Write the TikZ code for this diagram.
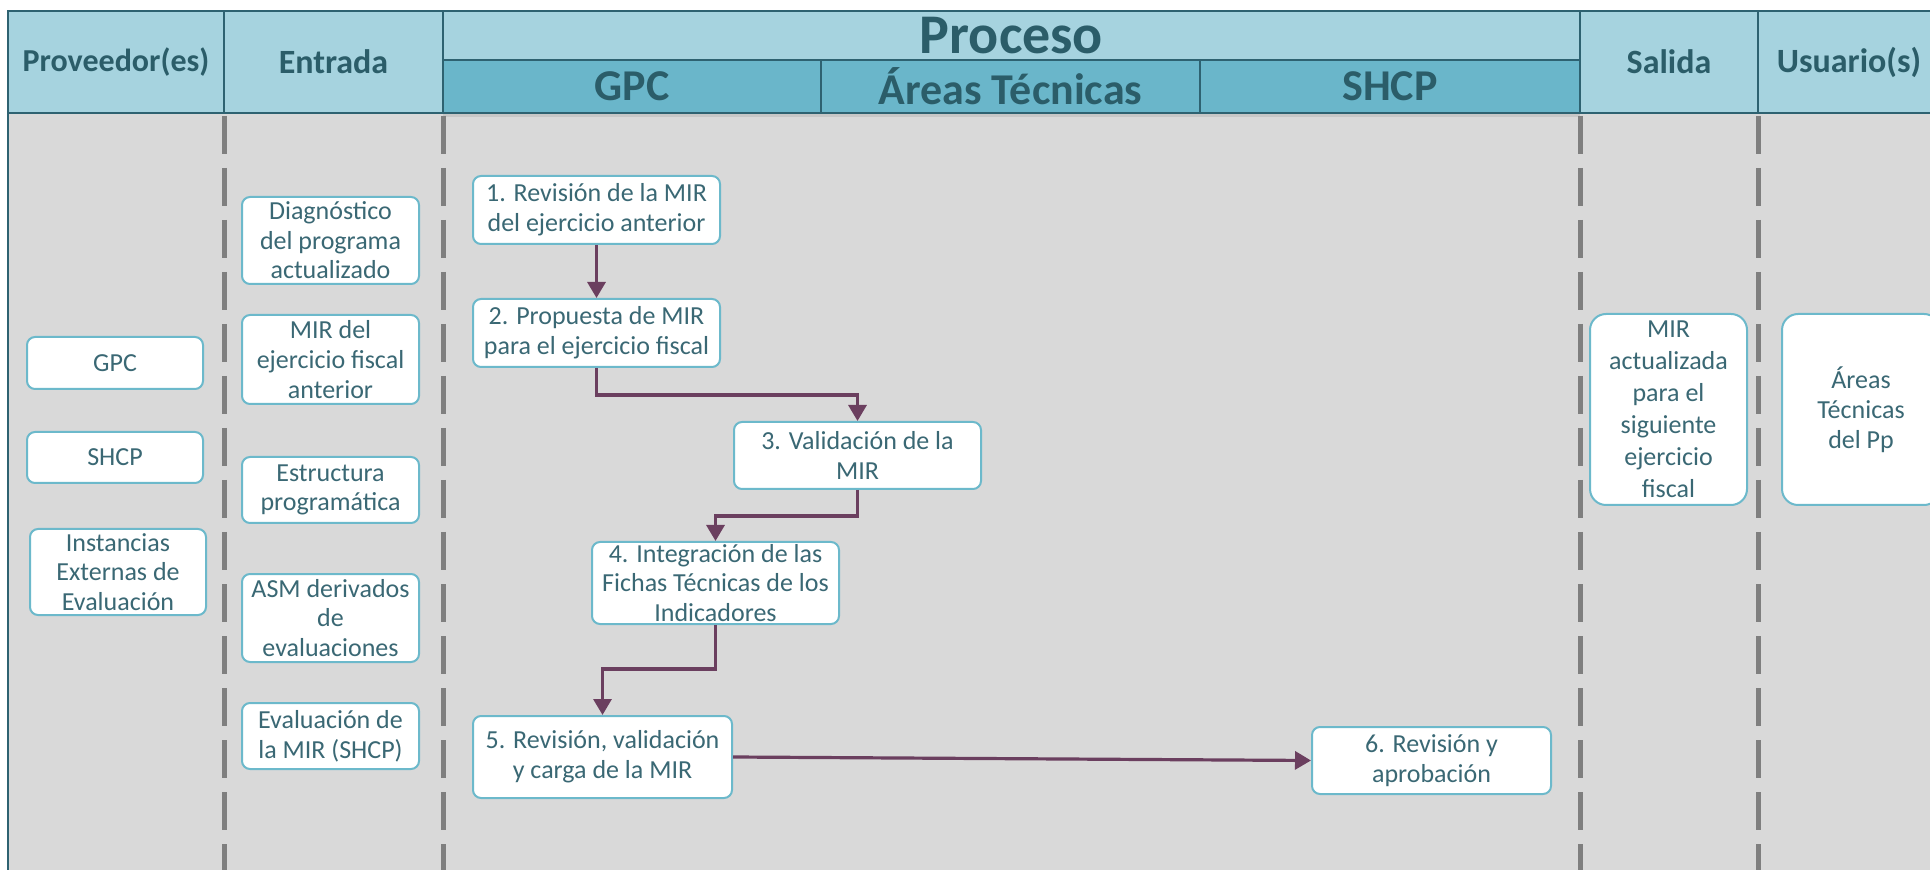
\documentclass[tikz,border=0pt]{standalone}
\usepackage{fontspec}
\setmainfont{Carlito}
\usetikzlibrary{arrows.meta}
\definecolor{hdrlight}{HTML}{A6D3DF}
\definecolor{hdrdark}{HTML}{6AB6CA}
\definecolor{hdrline}{HTML}{2E6271}
\definecolor{hdrtext}{HTML}{2B5D69}
\definecolor{bodygray}{HTML}{D9D9D9}
\definecolor{dashgray}{HTML}{7F7F7F}
\definecolor{boxline}{HTML}{6CB9CB}
\definecolor{boxtext}{HTML}{3A6874}
\definecolor{arrowcol}{HTML}{6B3F5F}
\begin{document}
\begin{tikzpicture}[x=0.5pt,y=-0.5pt,
  box/.style={draw=boxline, line width=1pt, fill=white, rounded corners=4pt, align=center,
    text=boxtext, font=\fontsize{13}{14.8}\selectfont, inner sep=1pt},
  hdrcell/.style={draw=hdrline, line width=1.2pt, fill=hdrlight, text=hdrtext,
    font=\bfseries\fontsize{17}{19}\selectfont, inner sep=0pt},
  subcell/.style={hdrcell, fill=hdrdark, font=\bfseries\fontsize{22}{24}\selectfont},
  lanesep/.style={draw=dashgray, line width=2.5pt, dash pattern=on 19pt off 7pt},
  flow/.style={draw=arrowcol, line width=1.6pt, -{Triangle[length=8pt,width=9pt]}}
]
\clip (0,0) rectangle (1930,870);
\fill[white] (0,0) rectangle (1930,870);
% body
\fill[bodygray] (8,113) rectangle (1940,870);
\fill[black!22] (443,113) rectangle (1580,117);
\draw[hdrline, line width=1pt] (8,113) -- (8,870);
% header cells
\node[hdrcell, minimum width=108pt, minimum height=51pt, font=\bfseries\fontsize{16}{18}\selectfont] (hProv) at (116,62) {Proveedor(es)};
\node[hdrcell, minimum width=109.5pt, minimum height=51pt] (hEnt) at (333.5,62) {Entrada};
\node[hdrcell, minimum width=568.5pt, minimum height=24.5pt, font=\bfseries\fontsize{28}{30}\selectfont] (hProc) at (1011.5,35.5) {Proceso};
\node[subcell, minimum width=189pt, minimum height=26.5pt] (hGPC) at (632,86.5) {GPC};
\node[subcell, minimum width=189.5pt, minimum height=26.5pt] (hAT) at (1010.5,86.5) {Áreas Técnicas};
\node[subcell, minimum width=190pt, minimum height=26.5pt] (hSHCP) at (1390,86.5) {SHCP};
\node[hdrcell, minimum width=89pt, minimum height=51pt] (hSal) at (1669,62) {Salida};
\node[hdrcell, minimum width=91pt, minimum height=51pt] (hUsu) at (1849,62) {Usuario(s)};
% lane separators
\draw[lanesep] (224,116) -- (224,870);
\draw[lanesep] (443,116) -- (443,870);
\draw[lanesep] (1580,116) -- (1580,870);
\draw[lanesep] (1758,116) -- (1758,870);
% providers
\node[box, minimum width=88pt, minimum height=26pt] (pGPC) at (115,363) {GPC};
\node[box, minimum width=88pt, minimum height=25.5pt] (pSHCP) at (115,457.5) {SHCP};
\node[box, minimum width=88pt, minimum height=43pt] (pInst) at (118,572) {Instancias\\Externas de\\Evaluación};
% inputs
\node[box, minimum width=88.5pt, minimum height=43.5pt] (eDiag) at (330.5,240.5) {Diagnóstico\\del programa\\actualizado};
\node[box, minimum width=88.5pt, minimum height=44.5pt] (eMIR) at (330.5,359.5) {MIR del\\ejercicio fiscal\\anterior};
\node[box, minimum width=88.5pt, minimum height=33pt] (eEst) at (330.5,490) {Estructura\\programática};
\node[box, minimum width=88.5pt, minimum height=44pt] (eASM) at (330.5,618) {ASM derivados\\de\\evaluaciones};
\node[box, minimum width=88.5pt, minimum height=33pt] (eEval) at (330.5,736) {Evaluación de\\la MIR (SHCP)};
% process
\node[box, minimum width=123.5pt, minimum height=34pt] (s1) at (596.5,210) {1. Revisión de la MIR\\del ejercicio anterior};
\node[box, minimum width=123.5pt, minimum height=34pt] (s2) at (596.5,333) {2. Propuesta de MIR\\para el ejercicio fiscal};
\node[box, minimum width=123.5pt, minimum height=33.5pt] (s3) at (857.5,455.5) {3. Validación de la\\MIR};
\node[box, minimum width=123.5pt, minimum height=41pt] (s4) at (715.5,583) {4. Integración de las\\Fichas Técnicas de los\\Indicadores};
\node[box, minimum width=129.5pt, minimum height=41pt] (s5) at (602.5,757) {5. Revisión, validación\\y carga de la MIR};
\node[box, minimum width=119.5pt, minimum height=33.5pt] (s6) at (1431.5,760.5) {6. Revisión y\\aprobación};
% output / users
\node[box, rounded corners=8pt, minimum width=78.5pt, minimum height=95.5pt, font=\fontsize{13}{16}\selectfont] (out) at (1668.5,409.5) {MIR\\actualizada\\para el\\siguiente\\ejercicio\\fiscal};
\node[box, rounded corners=8pt, minimum width=79pt, minimum height=95.5pt, font=\fontsize{13}{15}\selectfont] (usr) at (1861,409.5) {Áreas\\Técnicas\\del Pp};
% connectors
\draw[flow] (s1) -- (s2);
\draw[flow] (s2.south) -- ++(0,27) -| (s3.north);
\draw[flow] (s3.south) -- ++(0,26) -| (s4.north);
\draw[flow] (s4.south) -- ++(0,44) -| (s5.north);
\draw[flow] (s5.east) -- (s6.west);
\end{tikzpicture}
\end{document}
